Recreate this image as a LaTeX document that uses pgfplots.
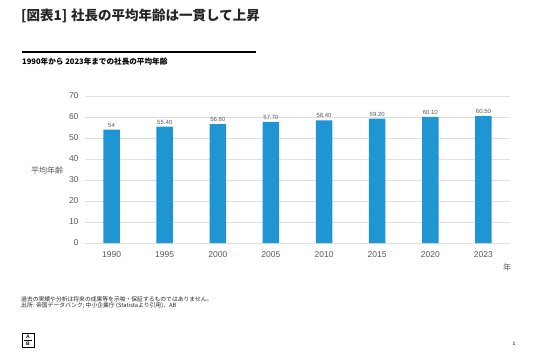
\documentclass[border=0pt]{standalone}
\usepackage{fontspec}
\usepackage{pgfplots}
\pgfplotsset{compat=1.18}
\usepackage{pgfplotstable}
\setmainfont{Liberation Sans}
\newfontfamily\cjk{Noto Sans CJK JP}
\definecolor{barblue}{HTML}{1F96D3}
\definecolor{tickgray}{HTML}{595959}
\definecolor{gridgray}{HTML}{E0E0E0}
\definecolor{titlek}{HTML}{262626}
\pgfplotstableread{
x y lab
0 54.0 54
1 55.4 55.40
2 56.6 56.60
3 57.7 57.70
4 58.4 58.40
5 59.2 59.20
6 60.1 60.10
7 60.5 60.50
}\agedata
\begin{document}
\begin{tikzpicture}[x=1pt,y=1pt]
\useasboundingbox (0,0) rectangle (540,-354);
% title
\node[anchor=west, inner sep=0pt, text=titlek] at (21,-16) {\cjk\bfseries\fontsize{13.5}{15}\selectfont [図表1]\hspace{4pt}社長の平均年齢は一貫して上昇};
\draw[line width=1.6pt, black] (22,-52) -- (256,-52);
\node[anchor=west, inner sep=0pt] at (22,-62) {\cjk\bfseries\fontsize{7.6}{9}\selectfont 1990年から 2023年までの社長の平均年齢};
\begin{axis}[
  at={(85pt,-243pt)}, anchor=south west,
  scale only axis, width=425pt, height=147pt,
  xmin=-0.5, xmax=7.5, ymin=0, ymax=70,
  ytick={0,10,...,70},
  xtick={0,...,7},
  xticklabels={1990,1995,2000,2005,2010,2015,2020,2023},
  ymajorgrids, grid style={color=gridgray, line width=0.6pt},
  axis line style={draw=none}, major tick style={draw=none},
  /pgf/number format/assume math mode=true,
  ticklabel style={font=\fontsize{8.5}{10}\selectfont, text=tickgray},
  yticklabel style={xshift=-3pt},
  xticklabel style={yshift=-1pt},
  ybar, bar width=16.5pt,
  nodes near coords, point meta=explicit symbolic,
  nodes near coords style={font=\fontsize{6}{7}\selectfont, text=tickgray, yshift=-1pt},
  clip=false,
]
\addplot[fill=barblue, draw=none] table[x=x, y=y, meta=lab] {\agedata};
\end{axis}
\node[text=tickgray, inner sep=0pt] at (47,-170) {\cjk\fontsize{8}{9}\selectfont 平均年齢};
\node[text=tickgray, inner sep=0pt] at (507,-267) {\cjk\fontsize{8}{9}\selectfont 年};
% footnotes
\node[anchor=west, inner sep=0pt, text=titlek] at (21,-299) {\cjk\fontsize{5.8}{7}\selectfont 過去の実績や分析は将来の成果等を示唆・保証するものではありません。};
\node[anchor=west, inner sep=0pt, text=titlek] at (21,-306) {\cjk\fontsize{5.8}{7}\selectfont 出所: 帝国データバンク; 中小企業庁 (Statistaより引用)、AB};
% logo
\draw[line width=1pt] (22,-333) rectangle (34,-347);
\draw[line width=0.5pt] (24,-340) -- (32,-340);
\node[inner sep=0pt] at (28,-336.5) {\bfseries\fontsize{5}{5}\selectfont A};
\node[inner sep=0pt] at (28,-343.5) {\bfseries\fontsize{5}{5}\selectfont B};
\node[inner sep=0pt] at (514,-344) {\fontsize{5}{6}\selectfont 1};
\end{tikzpicture}
\end{document}
